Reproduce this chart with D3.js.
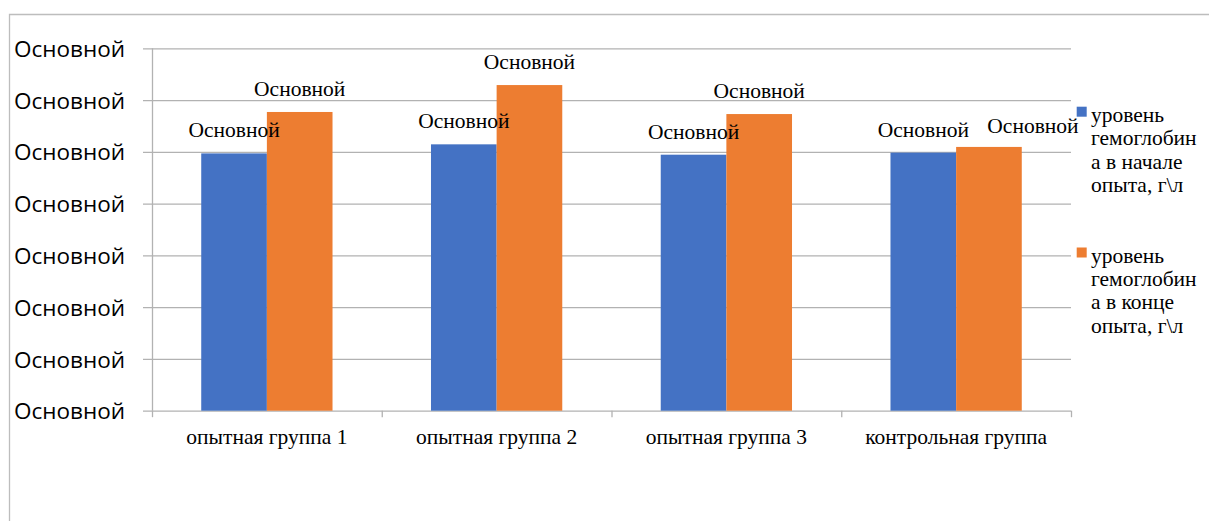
<!DOCTYPE html>
<html lang="ru">
<head>
<meta charset="utf-8">
<script src="https://cdn.jsdelivr.net/npm/d3@7"></script>
<style>
  html, body { margin: 0; padding: 0; background: #fff; }
  svg { display: block; }
</style>
</head>
<body>
<svg id="chart" width="1209" height="521"></svg>
<script>
// Hemoglobin level per group, g/l
const categories = ["опытная группа 1", "опытная группа 2", "опытная группа 3", "контрольная группа"];
const seriesKeys = ["start", "end"];
const startValues = [99.4, 102.9, 98.9, 99.7];
const endValues = [115.4, 125.8, 114.6, 101.9];
const yTicks = [0, 20, 40, 60, 80, 100, 120, 140];
const yTickLabel = "Основной";
const dataLabel = "Основной";
const legendLines = [
  ["уровень", "гемоглобин", "а в начале", "опыта, г\\л"],
  ["уровень", "гемоглобин", "а в конце", "опыта, г\\л"]
];
const colors = { start: "#4472C4", end: "#ED7D31" };

const svg = d3.select("#chart");
const W = 1209, H = 521;
const plot = { left: 152, right: 1071, top: 48.3, bottom: 410.7 };
const gridColor = "#b2b2b2";
const serif = "'Liberation Serif', 'Times New Roman', serif";
const serifSize = "21.5px";

// Outer chart-area frame (top and left edges)
svg.append("path")
  .attr("d", `M9.5,${H} V14.5 H${W}`)
  .attr("fill", "none").attr("stroke", "#bdbdbd").attr("stroke-width", 1.3);

const rows = categories.map((c, i) => ({ cat: c, start: startValues[i], end: endValues[i] }));

const y = d3.scaleLinear().domain([0, 140]).range([plot.bottom, plot.top]);
const x0 = d3.scaleBand().domain(categories).range([plot.left, plot.right]).paddingInner(0).paddingOuter(0);
const bw = x0.bandwidth();
const x1 = d3.scaleBand().domain(seriesKeys).range([bw * 0.2143, bw * 0.7857]).padding(0);

// Value axis with gridlines running through the tick marks
const tickStart = 143;
const yAxis = svg.append("g")
  .attr("transform", `translate(${tickStart},0)`)
  .call(d3.axisLeft(y).tickValues(yTicks).tickFormat(() => yTickLabel)
    .tickSize(-(plot.right - tickStart)).tickPadding(18));
yAxis.select(".domain").remove();
yAxis.selectAll(".tick line").attr("stroke", gridColor).attr("stroke-width", 1.3);
yAxis.selectAll(".tick text")
  .attr("fill", "#000")
  .attr("dy", "0.36em")
  .style("font-family", "'Open Sans', 'Noto Sans', sans-serif")
  .style("font-size", "22.5px");

// Vertical value-axis line
svg.append("line")
  .attr("x1", plot.left + 0.5).attr("x2", plot.left + 0.5)
  .attr("y1", y(140)).attr("y2", y(0))
  .attr("stroke", gridColor).attr("stroke-width", 1.3);

// Category axis: boundary ticks below the baseline and centred labels
const xAxis = svg.append("g")
  .attr("transform", `translate(0,${y(0)})`)
  .call(d3.axisBottom(x0).tickSize(0).tickPadding(0));
xAxis.select(".domain").remove();
xAxis.selectAll(".tick text")
  .attr("y", 33.8).attr("dy", 0)
  .attr("fill", "#000")
  .style("font-family", serif)
  .style("font-size", serifSize);

const bounds = categories.map(c => x0(c)).concat([plot.right]);
svg.append("g").selectAll("line").data(bounds).join("line")
  .attr("x1", d => d + 0.5).attr("x2", d => d + 0.5)
  .attr("y1", y(0)).attr("y2", y(0) + 6.5)
  .attr("stroke", gridColor).attr("stroke-width", 1.3);

// Bars
const groups = svg.append("g").selectAll("g").data(rows).join("g")
  .attr("transform", d => `translate(${x0(d.cat)},0)`);

groups.selectAll("rect")
  .data(d => seriesKeys.map(k => ({ key: k, value: d[k], cat: d.cat })))
  .join("rect")
  .attr("x", d => x1(d.key))
  .attr("width", x1.bandwidth())
  .attr("y", d => y(d.value))
  .attr("height", d => y(0) - y(d.value))
  .attr("fill", d => colors[d.key]);

// Data labels above bars; the last label is nudged right to clear its neighbour
const lastCat = categories[categories.length - 1];
groups.selectAll("text.lbl")
  .data(d => seriesKeys.map(k => ({ key: k, value: d[k], cat: d.cat })))
  .join("text")
  .attr("class", "lbl")
  .attr("x", d => x1(d.key) + x1.bandwidth() / 2 + (d.cat === lastCat && d.key === "end" ? 44 : 0))
  .attr("y", d => y(d.value) - 16 + (d.cat === lastCat && d.key === "end" ? 2 : 0))
  .attr("text-anchor", "middle")
  .attr("fill", "#000")
  .style("font-family", serif)
  .style("font-size", serifSize)
  .text(dataLabel);

// Legend
const legendTop = [121.7, 262.5];
const legend = svg.append("g").selectAll("g").data(seriesKeys).join("g");
legend.append("rect")
  .attr("x", 1076.7)
  .attr("y", (d, i) => legendTop[i] - 15)
  .attr("width", 10).attr("height", 10)
  .attr("fill", d => colors[d]);
legend.append("text")
  .attr("fill", "#000")
  .style("font-family", serif)
  .style("font-size", serifSize)
  .selectAll("tspan")
  .data((d, i) => legendLines[i].map((t, j) => ({ t, j, i })))
  .join("tspan")
  .attr("x", 1091)
  .attr("y", d => legendTop[d.i] + d.j * 23.4)
  .text(d => d.t);
</script>
</body>
</html>
